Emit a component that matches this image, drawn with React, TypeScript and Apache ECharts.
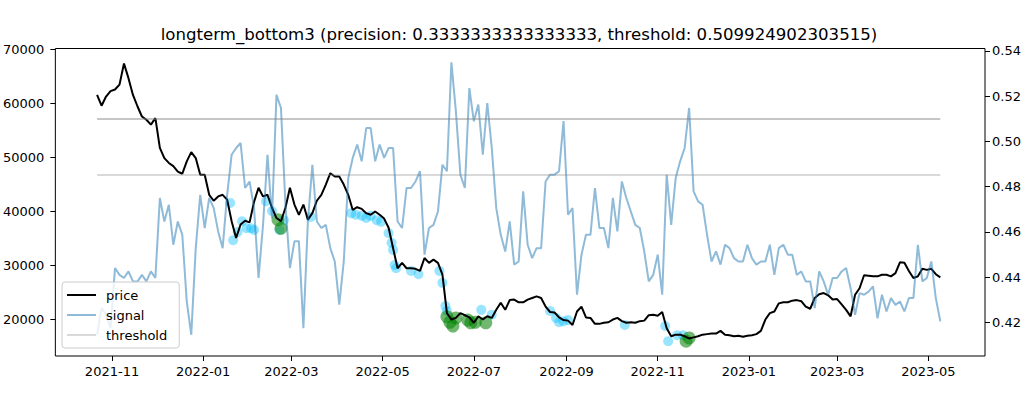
import React, { useEffect, useRef } from "react";
import * as echarts from "echarts";

// ---- data ----
const START_DATE = "2021-10-22";
const STEP_DAYS = 3;

const price = [
  61500, 59500, 61200, 62200, 62500, 63400, 67300, 64600, 61500, 59400,
  57500, 56900, 56000, 57200, 51700, 49800, 48900, 48300, 47300, 46900,
  49200, 50900, 49800, 46700, 46700, 43000, 41900, 42700, 43000, 42100,
  38100, 35000, 37500, 38200, 37900, 41700, 44300, 42700, 43000, 40600,
  38700, 38100, 40600, 44300, 41200, 39300, 41200, 38400, 39600, 41900,
  43000, 44900, 47000, 46400, 46400, 44900, 43000, 40200, 40700, 40400,
  39600, 39300, 39900, 39300, 38600, 36900, 33100, 29400, 30400, 29400,
  29400, 29300, 28900, 31300, 30400, 31000, 30400, 28200, 21100, 19900,
  20200, 21100, 20700, 20300, 19300, 20500, 19900, 20500, 20200, 21700,
  23000, 21700, 23500, 23600, 23100, 23100, 23600, 23900, 24200, 23900,
  22300, 21300, 21200, 20300, 19800, 19700, 18900, 21400, 22300, 20300,
  20200, 19100, 19100, 19300, 19400, 19900, 20200, 19600, 19300, 19400,
  19300, 19600, 19700, 20700, 20800, 20600, 21300, 18300, 16800, 17100,
  17100, 16800, 16400, 16600, 16800, 17100, 17200, 17300, 17300, 17800,
  17100, 17000, 16800, 16900, 16700, 16900, 17000, 17200, 17800, 19900,
  21100, 21400, 22900, 23100, 23100, 23400, 23500, 23300, 22300, 21900,
  23900, 24600, 24800, 24400, 23600, 23700, 22700, 21700, 20500, 24500,
  25700, 28100, 28000, 27900, 27900, 28200, 28200, 27900, 28500, 30500,
  30400, 28900, 27600, 27900, 29300, 29100, 29300, 28300, 27700,
];

const signal = [
  0.4145, 0.4263, 0.4233, 0.4174, 0.444, 0.441, 0.4396, 0.4425, 0.4381, 0.438,
  0.441, 0.4381, 0.4425, 0.4396, 0.475, 0.4646, 0.472, 0.4543, 0.4646, 0.4587,
  0.4292, 0.4145, 0.4528, 0.4764, 0.4617, 0.475, 0.4705, 0.4602, 0.4528, 0.4764,
  0.4941, 0.4971, 0.4993, 0.4794, 0.4823, 0.4705, 0.4396, 0.4631, 0.4941, 0.4661,
  0.5206, 0.5148, 0.472, 0.444, 0.4558, 0.4558, 0.4174, 0.4646, 0.4897, 0.4646,
  0.4617, 0.4631, 0.4528, 0.4469, 0.4278, 0.4469, 0.4838, 0.4927, 0.4986, 0.4912,
  0.5059, 0.5059, 0.4912, 0.4986, 0.4927, 0.4971, 0.4971, 0.4646, 0.4617, 0.4794,
  0.4794, 0.4823, 0.4868, 0.4499, 0.4617, 0.4631, 0.469, 0.4897, 0.4868, 0.535,
  0.5133, 0.4853, 0.4794, 0.5236, 0.5089, 0.5163, 0.4941, 0.517, 0.4971, 0.4705,
  0.4587, 0.4513, 0.4646, 0.4455, 0.4469, 0.4779, 0.4543, 0.4484, 0.4528, 0.4528,
  0.4823, 0.4853, 0.4853, 0.4868, 0.509, 0.4676, 0.4705, 0.4322, 0.4499, 0.4587,
  0.4587, 0.4794, 0.4617, 0.4617, 0.4528, 0.475, 0.4602, 0.4823, 0.475, 0.469,
  0.4631, 0.4617, 0.4513, 0.4381, 0.441, 0.4499, 0.4322, 0.4853, 0.4631, 0.4838,
  0.4912, 0.4971, 0.5148, 0.4779, 0.4735, 0.472, 0.4587, 0.4469, 0.4514, 0.4455,
  0.4543, 0.4528, 0.4484, 0.4469, 0.4469, 0.4543, 0.4484, 0.4455, 0.4469, 0.4469,
  0.4543, 0.441, 0.4528, 0.4543, 0.4499, 0.4499, 0.441, 0.4425, 0.4381, 0.4381,
  0.4263, 0.4425, 0.4381, 0.4322, 0.4396, 0.4396, 0.4425, 0.444, 0.4351, 0.4233,
  0.4329, 0.4322, 0.4336, 0.4359, 0.4218, 0.4322, 0.4248, 0.4307, 0.4277, 0.4292,
  0.4248, 0.4307, 0.4307, 0.4543, 0.4381, 0.4396, 0.4469, 0.4307, 0.4204,
];

const thresholdUpper = 0.509924902303515;
const thresholdLower = 0.4852;

const bluePointDates = [
  "2022-01-19", "2022-01-21", "2022-01-24", "2022-01-27", "2022-01-30", "2022-02-02",
  "2022-02-04", "2022-02-12", "2022-02-16", "2022-02-21", "2022-02-24", "2022-03-14",
  "2022-04-10", "2022-04-13", "2022-04-17", "2022-04-20", "2022-04-23", "2022-04-27",
  "2022-04-30", "2022-05-05", "2022-05-07", "2022-05-08", "2022-05-09", "2022-05-10",
  "2022-05-20", "2022-05-25", "2022-06-08", "2022-06-10", "2022-06-12", "2022-06-13",
  "2022-07-06", "2022-07-13", "2022-08-21", "2022-08-25", "2022-08-27", "2022-08-30",
  "2022-09-02", "2022-10-10", "2022-11-06", "2022-11-08", "2022-11-14", "2022-11-18",
];
const bluePointPrices = [
  41500, 34600, 36100, 38100, 36800, 36800,
  36500, 41800, 40000, 36500, 38300, 38900,
  39600, 39300, 39100, 38700, 39100, 38300,
  38000, 35900, 34100, 32800, 30000, 29400,
  28900, 28300, 28900, 26700, 22400, 21500,
  21700, 20800, 21500, 20200, 19400, 19600,
  19800, 18900, 18700, 15900, 17000, 17000,
];

const greenPointDates = [
  "2022-02-20", "2022-02-22", "2022-06-13", "2022-06-15", "2022-06-17", "2022-06-19",
  "2022-06-27", "2022-06-29", "2022-07-02", "2022-07-09", "2022-11-20", "2022-11-22",
];
const greenPointPrices = [
  38400, 36800, 20400, 19400, 18700, 20200,
  19800, 19300, 19400, 19300, 15900, 16500,
];

const dateTicks = [
  "2021-11", "2022-01", "2022-03", "2022-05", "2022-07",
  "2022-09", "2022-11", "2023-01", "2023-03", "2023-05",
];
const priceTicks = [20000, 30000, 40000, 50000, 60000, 70000];
const signalTicks = [0.42, 0.44, 0.46, 0.48, 0.5, 0.52, 0.54];

const TITLE =
  "longterm_bottom3 (precision: 0.3333333333333333, threshold: 0.509924902303515)";

// ---- helpers ----
const DAY = 86400000;
const ts = (s: string) => {
  const [y, m, d] = s.split("-").map(Number);
  return Date.UTC(y, m - 1, d || 1);
};
const fmtMonth = (v: number) => {
  const d = new Date(Math.round(v));
  return `${d.getUTCFullYear()}-${String(d.getUTCMonth() + 1).padStart(2, "0")}`;
};
const fmtSignal = (v: number) => v.toFixed(2);
const fmtPrice = (v: number) => String(Math.round(v));

const FONT = "DejaVu Sans";

export default function App() {
  const ref = useRef<HTMLDivElement>(null);

  useEffect(() => {
    document.body.style.margin = "0";
    if (!ref.current) return;
    const chart = echarts.init(ref.current, undefined, { renderer: "svg" });

    const start = ts(START_DATE);
    const dates = price.map((_, i) => start + i * STEP_DAYS * DAY);
    const first = dates[0];
    const last = dates[dates.length - 1];
    const xMin = ts("2021-11-01") - 37.9 * DAY;
    const xMax = ts("2021-11-01") + 583.9 * DAY;

    const axisText = { color: "#000", fontFamily: FONT, fontSize: 13 };
    const dateTickValues = dateTicks.map(ts);

    chart.setOption({
      animation: false,
      backgroundColor: "#fff",
      title: {
        text: TITLE,
        left: 514,
        textAlign: "center",
        top: 21,
        textStyle: { color: "#000", fontFamily: FONT, fontSize: 16.6, fontWeight: "normal" },
      },
      grid: {
        left: 55,
        right: 42,
        top: 48.5,
        bottom: 44,
        show: true,
        borderColor: "#000",
        borderWidth: 1,
        backgroundColor: "transparent",
      },
      legend: {
        orient: "vertical",
        left: 62,
        top: 282,
        padding: [3, 12, 3, 5],
        itemGap: 0,
        itemWidth: 29,
        itemHeight: 2,
        backgroundColor: "rgba(255,255,255,0.8)",
        borderColor: "#cccccc",
        borderWidth: 1,
        borderRadius: 3,
        z: 20,
        textStyle: {
          color: "#000",
          fontFamily: FONT,
          fontSize: 13,
          lineHeight: 20,
          padding: [0, 0, 0, 5],
        },
        data: [
          { name: "price", icon: "rect" },
          { name: "signal", icon: "rect" },
          { name: "threshold", icon: "rect" },
        ],
      },
      xAxis: {
        type: "value",
        min: xMin,
        max: xMax,
        scale: true,
        axisLine: { show: false },
        splitLine: { show: false },
        axisTick: {
          show: true,
          length: 5,
          lineStyle: { color: "#000" },
          customValues: dateTickValues,
        },
        axisLabel: {
          ...axisText,
          margin: 9,
          customValues: dateTickValues,
          formatter: (v: number) => fmtMonth(v),
        },
      },
      yAxis: [
        {
          type: "value",
          min: 13150,
          max: 70093,
          axisLine: { show: false },
          splitLine: { show: false },
          axisTick: {
            show: true,
            length: 5,
            lineStyle: { color: "#000" },
            customValues: priceTicks,
          },
          axisLabel: {
            ...axisText,
            margin: 11,
            customValues: priceTicks,
            formatter: (v: number) => fmtPrice(v),
          },
        },
        {
          type: "value",
          position: "right",
          min: 0.4051,
          max: 0.5411,
          axisLine: { show: false },
          splitLine: { show: false },
          axisTick: {
            show: true,
            length: 5,
            lineStyle: { color: "#000" },
            customValues: signalTicks,
          },
          axisLabel: {
            ...axisText,
            margin: 7,
            customValues: signalTicks,
            formatter: (v: number) => fmtSignal(v),
          },
        },
      ],
      series: [
        {
          name: "bottom",
          type: "scatter",
          yAxisIndex: 0,
          symbolSize: 10,
          z: 2,
          itemStyle: { color: "rgba(0,191,255,0.5)" },
          data: bluePointDates.map((d, i) => [ts(d), bluePointPrices[i]]),
        },
        {
          name: "hit",
          type: "scatter",
          yAxisIndex: 0,
          symbolSize: 13,
          z: 3,
          itemStyle: { color: "rgba(0,128,0,0.7)" },
          data: greenPointDates.map((d, i) => [ts(d), greenPointPrices[i]]),
        },
        {
          name: "price",
          type: "line",
          yAxisIndex: 0,
          showSymbol: false,
          symbol: "none",
          z: 4,
          color: "#000",
          lineStyle: { color: "#000", width: 2 },
          data: dates.map((d, i) => [d, price[i]]),
        },
        {
          name: "signal",
          type: "line",
          yAxisIndex: 1,
          showSymbol: false,
          symbol: "none",
          z: 5,
          color: "rgba(31,119,180,0.5)",
          lineStyle: { color: "rgba(31,119,180,0.5)", width: 2 },
          data: dates.map((d, i) => [d, signal[i]]),
        },
        {
          name: "threshold",
          type: "line",
          yAxisIndex: 1,
          showSymbol: false,
          symbol: "none",
          z: 6,
          color: "rgba(128,128,128,0.3)",
          lineStyle: { color: "rgba(128,128,128,0.3)", width: 2 },
          data: [
            [first, thresholdLower],
            [last, thresholdLower],
          ],
        },
        {
          name: "threshold",
          type: "line",
          yAxisIndex: 1,
          showSymbol: false,
          symbol: "none",
          z: 6,
          color: "rgba(128,128,128,0.45)",
          lineStyle: { color: "rgba(128,128,128,0.45)", width: 2 },
          data: [
            [first, thresholdUpper],
            [last, thresholdUpper],
          ],
        },
      ],
    });

    return () => chart.dispose();
  }, []);

  return <div ref={ref} style={{ width: 1027, height: 400 }} />;
}
